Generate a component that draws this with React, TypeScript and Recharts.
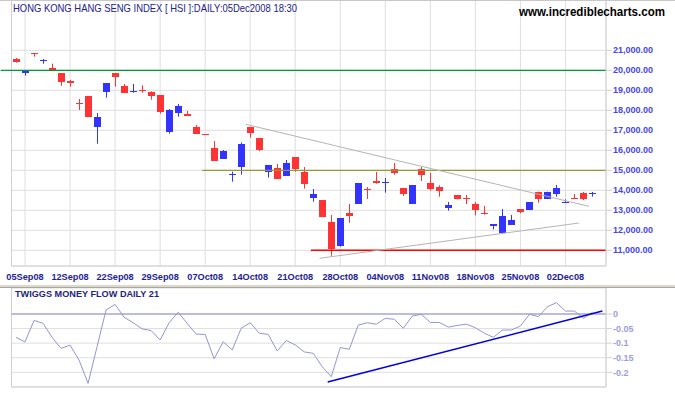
import React from "react";
import {
  Bar,
  CartesianGrid,
  ComposedChart,
  Line,
  ReferenceLine,
  XAxis,
  YAxis,
} from "recharts";

const RED = "#ff3333";
const BLUE = "#3333ff";
const FONT = "'Liberation Sans', Arial, sans-serif";

// x positions of the date ticks (candle index) and their labels
const tickIdx = [1, 6, 11, 16, 21, 26, 31, 36, 41, 46, 51, 56, 61];
const tickLabels = [
  "05Sep08", "12Sep08", "22Sep08", "29Sep08", "07Oct08", "14Oct08", "21Oct08",
  "28Oct08", "04Nov08", "11Nov08", "18Nov08", "25Nov08", "02Dec08",
];

const priceTicks = [11000, 12000, 13000, 14000, 15000, 16000, 17000, 18000, 19000, 20000, 21000];
const tmfTicks = [0, -0.05, -0.1, -0.15, -0.2];

// daily OHLC, 04 Sep 2008 .. 05 Dec 2008
const open = [
  20565, 19881, 20850, 20500, 20115, 19865, 19481, 18370, 18714, 17181,
  18931, 19865, 19215, 18931, 18998, 18915, 18765, 16931, 17881, 17814,
  17164, 16800, 16114, 15580, 14798, 15181, 17165, 16615, 14931, 15114,
  14731, 15665, 14914, 13631, 13514, 12414, 11230, 12864, 13331, 14064,
  14464, 14398, 15064, 14114, 13331, 15064, 14364, 14165, 13131, 13765,
  13615, 13298, 12865, 12231, 11881, 12281, 13064, 13031, 13931, 13581,
  13815, 13398, 13615, 13865, 13815,
];
const high = [
  20615, 19981, 20860, 20565, 20331, 19865, 19515, 18564, 18714, 17864,
  19364, 19865, 19315, 19315, 19248, 18948, 18765, 18064, 18314, 17964,
  17264, 16810, 16464, 16014, 14931, 16398, 17181, 16615, 15265, 15314,
  15515, 15665, 15164, 14064, 13514, 12764, 12597, 13314, 14364, 14164,
  14915, 14614, 15364, 14114, 14264, 15164, 14865, 14248, 13415, 13765,
  13765, 13415, 13215, 12298, 13064, 12765, 13064, 13415, 13931, 13931,
  14265, 13548, 13815, 13915, 13915,
];
const low = [
  20381, 19731, 20681, 20331, 19980, 19231, 19181, 18014, 17681, 16331,
  18631, 19181, 18881, 18881, 18881, 18531, 17831, 16831, 17681, 17731,
  16831, 16780, 15480, 15580, 14431, 14781, 16631, 15965, 14631, 14581,
  14731, 14931, 14081, 13431, 12681, 10730, 11180, 12381, 13331, 13564,
  14331, 13881, 14781, 13714, 13331, 14464, 13981, 13681, 12981, 13548,
  13315, 12748, 12781, 12048, 11881, 12281, 12848, 13031, 13381, 13581,
  13681, 13381, 13581, 13515, 13681,
];
const close = [
  20415, 19981, 20840, 20515, 19998, 19431, 19381, 18360, 17681, 17664,
  19364, 19681, 18881, 18965, 18981, 18731, 17931, 18015, 18214, 17731,
  16831, 16790, 15480, 15964, 14831, 16315, 16881, 16015, 15265, 14581,
  15365, 15064, 14331, 13814, 12681, 11080, 12597, 12731, 14364, 14031,
  14381, 14431, 14881, 13831, 14264, 14781, 14065, 13981, 13265, 13581,
  13581, 12998, 12831, 12298, 12714, 12498, 12931, 13415, 13581, 13931,
  14115, 13431, 13581, 13565, 13848,
];

// Twiggs Money Flow (21)
const tmf = [
  -0.08, -0.096, -0.022, -0.032, -0.08, -0.118, -0.107, -0.158, -0.238, -0.112,
  0.014, 0.033, -0.011, -0.03, -0.051, -0.057, -0.089, -0.03, 0.006, -0.032,
  -0.069, -0.07, -0.154, -0.095, -0.123, -0.049, -0.03, -0.066, -0.07, -0.127,
  -0.091, -0.106, -0.13, -0.135, -0.181, -0.215, -0.115, -0.121, -0.038, -0.03,
  -0.035, -0.015, -0.018, -0.049, -0.007, -0.001, -0.029, -0.029, -0.045, -0.039,
  -0.035, -0.047, -0.066, -0.08, -0.055, -0.055, -0.041, -0.001, -0.009, 0.025,
  0.039, 0.01, 0.01, -0.015, 0.006,
];

const rows = open.map((o, i) => ({
  i,
  o,
  h: high[i],
  l: low[i],
  c: close[i],
  tmf: tmf[i],
}));

const Candle = (props: any) => {
  const { x, y, width, height, payload } = props;
  const { o, h, l, c } = payload;
  const top = Math.min(y, y + height);
  const span = Math.abs(height);
  const k = span / (h - l);
  const py = (v: number) => top + (h - v) * k;
  const color = c >= o ? BLUE : RED;
  const cx = Math.floor(x + width / 2) + 0.5;
  const bx = Math.round(x);
  const bTop = Math.round(py(Math.max(o, c)));
  const bH = Math.max(1, Math.round(py(Math.min(o, c))) - bTop);
  return (
    <g>
      <line x1={cx} x2={cx} y1={top} y2={top + span} stroke={color} strokeWidth={1} />
      <rect x={bx} y={bTop} width={width} height={bH} fill={color} />
    </g>
  );
};

const fmtPrice = (v: number) =>
  v.toLocaleString("en-US", { minimumFractionDigits: 2, maximumFractionDigits: 2 });

export default function App() {
  return (
    <div
      style={{
        position: "absolute",
        left: 0,
        top: 0,
        width: 675,
        height: 395,
        background: "#fff",
        overflow: "hidden",
        fontFamily: FONT,
      }}
    >
      <div style={{ position: "absolute", left: 0, top: 0 }}>
        <ComposedChart
          width={675}
          height={286}
          data={rows}
          margin={{ top: 0, right: 0, bottom: 0, left: 11.5 }}
        >
          <CartesianGrid stroke="#dedede" />
          <XAxis
            type="number"
            dataKey="i"
            domain={[-0.5, 65.5]}
            ticks={tickIdx}
            interval={0}
            allowDataOverflow
            tickFormatter={(v: number) => tickLabels[tickIdx.indexOf(v)]}
            height={20}
            stroke="#d0d0d0"
            tickLine={false}
            tickSize={3}
            tickMargin={4}
            tick={{ fontSize: 9.2, fontWeight: "bold", fill: "#1e1e96", fontFamily: FONT }}
          />
          <YAxis
            orientation="right"
            width={69}
            domain={[10215, 23515]}
            ticks={priceTicks}
            interval={0}
            allowDataOverflow
            tickFormatter={fmtPrice}
            stroke="#d0d0d0"
            tickSize={6}
            tickMargin={1}
            tick={{ fontSize: 9, fontWeight: "bold", fill: "#4646ee", fontFamily: FONT }}
          />
          <ReferenceLine x={-0.5} stroke="#d0d0d0" />
          <ReferenceLine
            segment={[{ x: -1.7, y: 20000 }, { x: 65.5, y: 20000 }]}
            stroke="#009933"
            strokeWidth={1.2}
            ifOverflow="visible"
          />
          <ReferenceLine
            segment={[{ x: 20.67, y: 15000 }, { x: 65.5, y: 15000 }]}
            stroke="#999933"
            strokeWidth={1.2}
            ifOverflow="visible"
          />
          <ReferenceLine
            segment={[{ x: 32.74, y: 11000 }, { x: 65.5, y: 11000 }]}
            stroke="#ff0000"
            strokeWidth={1.5}
            ifOverflow="visible"
          />
          <ReferenceLine
            segment={[{ x: 25.5, y: 17300 }, { x: 63.6, y: 13200 }]}
            stroke="#b4b4b4"
            ifOverflow="visible"
          />
          <ReferenceLine
            segment={[{ x: 33.7, y: 10600 }, { x: 62.5, y: 12365 }]}
            stroke="#b4b4b4"
            ifOverflow="visible"
          />
          <Bar
            dataKey={(d: any) => [d.l, d.h]}
            barSize={7}
            shape={(p: any) => <Candle {...p} />}
            isAnimationActive={false}
          />
        </ComposedChart>
      </div>

      <div style={{ position: "absolute", left: 0, top: 288 }}>
        <ComposedChart
          width={675}
          height={107}
          data={rows}
          margin={{ top: 0, right: 0, bottom: 3, left: 11.5 }}
        >
          <CartesianGrid stroke="#dedede" />
          <XAxis
            type="number"
            dataKey="i"
            domain={[-0.5, 65.5]}
            ticks={tickIdx}
            interval={0}
            allowDataOverflow
            tick={false}
            height={5}
            tickSize={5}
            stroke="#d0d0d0"
          />
          <YAxis
            orientation="right"
            width={69}
            domain={[-0.2504, 0.0892]}
            ticks={tmfTicks}
            interval={0}
            allowDataOverflow
            tickFormatter={(v: number) => String(v)}
            stroke="#d0d0d0"
            tickSize={6}
            tickMargin={1}
            tick={{ fontSize: 9, fontWeight: "bold", fill: "#9c9cde", fontFamily: FONT }}
          />
          <ReferenceLine x={-0.5} stroke="#d0d0d0" />
          <ReferenceLine y={0} stroke="#8888cc" />
          <Line
            dataKey="tmf"
            stroke="#9494d4"
            strokeWidth={1}
            dot={false}
            isAnimationActive={false}
          />
          <ReferenceLine
            segment={[{ x: 34.6, y: -0.233 }, { x: 65.1, y: 0.01 }]}
            stroke="#0000dd"
            strokeWidth={1.5}
            ifOverflow="visible"
          />
        </ComposedChart>
      </div>

      <div style={{ position: "absolute", left: 0, top: 0, width: 675, height: 1, background: "#c8c8c8" }} />
      <div style={{ position: "absolute", left: 0, top: 285, width: 675, height: 2, background: "#dcd8cc" }} />
      <div style={{ position: "absolute", left: 0, top: 287, width: 675, height: 1, background: "#a8a8a0" }} />

      <svg
        width={675}
        height={395}
        style={{ position: "absolute", left: 0, top: 0, pointerEvents: "none" }}
      >
        <text x={13} y={12} fontSize={11} fill="#22228a" fontFamily={FONT} textLength={284} lengthAdjust="spacingAndGlyphs">
          HONG KONG HANG SENG INDEX [ HSI ]:DAILY:05Dec2008 18:30
        </text>
        <text x={519} y={15.5} fontSize={12} fontWeight="bold" fill="#000" fontFamily={FONT} textLength={146} lengthAdjust="spacingAndGlyphs">
          www.incrediblecharts.com
        </text>
        <text x={15} y={297} fontSize={9} fontWeight="bold" fill="#23237a" fontFamily={FONT} textLength={144} lengthAdjust="spacingAndGlyphs">
          TWIGGS MONEY FLOW DAILY 21
        </text>
      </svg>
    </div>
  );
}
